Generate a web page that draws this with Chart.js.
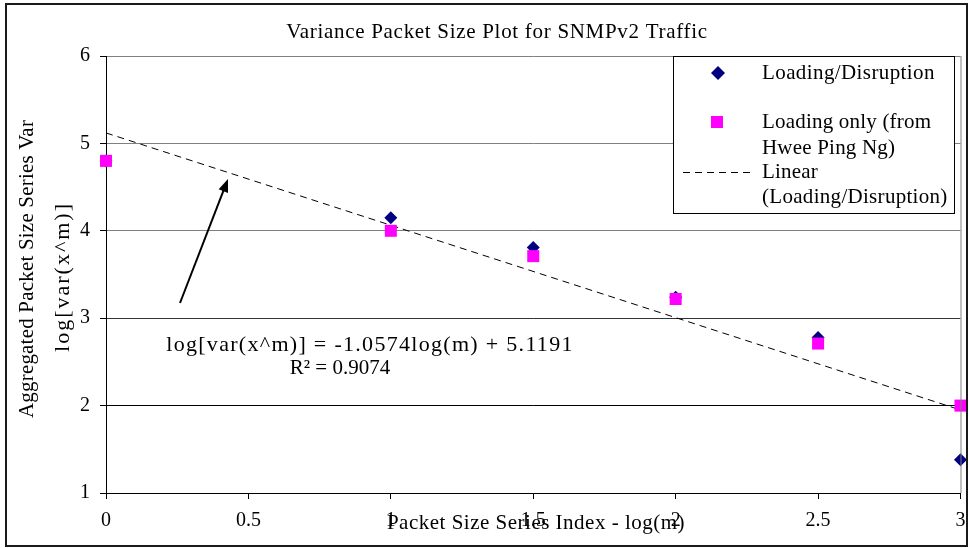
<!DOCTYPE html>
<html>
<head>
<meta charset="utf-8">
<script src="https://cdn.jsdelivr.net/npm/chart.js@4/dist/chart.umd.min.js"></script>
<style>
body{margin:0;background:#fff;}
#wrap{width:969px;height:548px;}
</style>
</head>
<body>
<div id="wrap"><canvas id="varChart" width="969" height="548"></canvas></div>
<script>
// values
let logM = [0, 1, 1.5, 2, 2.5, 3];
let loadingDisruption = [4.8, 4.15, 3.81, 3.24, 2.78, 1.38];
let loadingOnly = [4.8, 4.0, 3.71, 3.22, 2.71, 2.0];
let trendX = [0, 3];
let trendY = [5.12, 1.95];
let xTicks = [0, 0.5, 1, 1.5, 2, 2.5, 3];
let yTicks = [1, 2, 3, 4, 5, 6];

let titleText = "Variance Packet Size Plot for SNMPv2 Traffic";
let xTitle = "Packet Size Series Index - log(m)";
let yTitle = ["Aggregated Packet Size Series Var", "log[var(x^m)]"];
let eqText = "log[var(x^m)] = -1.0574log(m) + 5.1191";
let r2Text = "R² = 0.9074";

let serif = "'Liberation Serif', 'Times New Roman', serif";

function pts(xs, ys){
let out = [];
xs.forEach((x,i)=>out.push({x:x, y:ys[i]}));
return out;
}

function txt(ctx, s, x, y, size, spacing){
ctx.font = size + "px " + serif;
ctx.letterSpacing = (spacing || 0) + "px";
ctx.fillText(s, x, y);
ctx.letterSpacing = "0px";
}

function drawArrow(ctx, x1, y1, x2, y2){
let a = Math.atan2(y2-y1, x2-x1);
ctx.save();
ctx.strokeStyle = "#000";
ctx.fillStyle = "#000";
ctx.lineWidth = 2;
ctx.beginPath();
ctx.moveTo(x1,y1);
ctx.lineTo(x2 - 8*Math.cos(a), y2 - 8*Math.sin(a));
ctx.stroke();
ctx.beginPath();
ctx.moveTo(x2,y2);
ctx.lineTo(x2 - 13*Math.cos(a) + 5*Math.sin(a), y2 - 13*Math.sin(a) - 5*Math.cos(a));
ctx.lineTo(x2 - 13*Math.cos(a) - 5*Math.sin(a), y2 - 13*Math.sin(a) + 5*Math.cos(a));
ctx.closePath();
ctx.fill();
ctx.restore();
}

let extras = {
id: "extras",
beforeDraw(chart){
let ctx = chart.ctx;
ctx.save();
ctx.fillStyle = "#fff";
ctx.fillRect(0,0,chart.width,chart.height);
ctx.restore();
},
afterDraw(chart){
let ctx = chart.ctx;
let area = chart.chartArea;
ctx.save();
// right edge of the plot area
ctx.strokeStyle = "#808080";
ctx.lineWidth = 1;
ctx.beginPath();
ctx.moveTo(area.right+0.5, area.top);
ctx.lineTo(area.right+0.5, area.bottom);
ctx.stroke();

ctx.fillStyle = "#000";
ctx.textBaseline = "middle";
ctx.textAlign = "center";
txt(ctx, titleText, 497, 32, 21, 0.7);
txt(ctx, xTitle, 536, 523, 21, 0.5);

ctx.save();
ctx.translate(27, 269);
ctx.rotate(-Math.PI/2);
txt(ctx, yTitle[0], 0, 0, 21, 0.2);
ctx.restore();
ctx.save();
ctx.translate(63, 277);
ctx.rotate(-Math.PI/2);
txt(ctx, yTitle[1], 0, 0, 22, 2);
ctx.restore();

// trendline equation
txt(ctx, eqText, 370, 345, 22, 1.3);
txt(ctx, r2Text, 340, 368, 21, 0);
drawArrow(ctx, 180, 303, 228, 179);

// legend
let lx = 673, ly = 56, lw = 281, lh = 157;
ctx.fillStyle = "#fff";
ctx.fillRect(lx, ly, lw, lh);
ctx.strokeStyle = "#000";
ctx.lineWidth = 1;
ctx.strokeRect(lx+0.5, ly+0.5, lw, lh);
ctx.fillStyle = "#000080";
ctx.beginPath();
ctx.moveTo(718, 66); ctx.lineTo(725, 73); ctx.lineTo(718, 80); ctx.lineTo(711, 73);
ctx.closePath();
ctx.fill();
ctx.fillStyle = "#ff00ff";
ctx.fillRect(711, 116, 12, 12);
ctx.strokeStyle = "#000";
ctx.setLineDash([7,5]);
ctx.beginPath();
ctx.moveTo(683, 172.5);
ctx.lineTo(752, 172.5);
ctx.stroke();
ctx.setLineDash([]);
ctx.fillStyle = "#000";
ctx.textAlign = "left";
txt(ctx, "Loading/Disruption", 762, 73, 21, 0.4);
txt(ctx, "Loading only (from", 762, 122, 21, 0.2);
txt(ctx, "Hwee Ping Ng)", 762, 148, 21, 0.2);
txt(ctx, "Linear", 762, 172, 21, 0.2);
txt(ctx, "(Loading/Disruption)", 762, 197, 21, 0.3);

// outer frame
ctx.strokeStyle = "#1a1a1a";
ctx.lineWidth = 2;
ctx.strokeRect(6, 4, 961, 542);
ctx.restore();
}
};

let gridCols = {6:"#808080", 5:"#808080", 4:"#808080", 3:"#333", 2:"#000", 1:"#000"};

let chart = new Chart(document.getElementById("varChart"),{
type:"scatter",
data:{
datasets:[
{
label:"Loading only (from Hwee Ping Ng)",
data:pts(logM, loadingOnly),
pointStyle:"rect",
pointRadius:8.5,
backgroundColor:"#ff00ff",
borderColor:"#ff00ff",
borderWidth:0,
clip:false,
order:0
},
{
label:"Loading/Disruption",
data:pts(logM, loadingDisruption),
pointStyle:"rectRot",
pointRadius:6.5,
backgroundColor:"#000080",
borderColor:"#000080",
borderWidth:0,
clip:false,
order:1
},
{
label:"Linear (Loading/Disruption)",
data:pts(trendX, trendY),
showLine:true,
pointRadius:0,
borderColor:"#000",
borderWidth:1,
borderDash:[7,5],
order:2
}
]
},
options:{
responsive:false,
animation:false,
layout:{padding:{top:56, right:4, left:0, bottom:0}},
plugins:{
legend:{display:false},
title:{display:false},
tooltip:{enabled:false}
},
scales:{
x:{
type:"linear",
min:0, max:3,
afterBuildTicks(s){ s.ticks = xTicks.map(v=>({value:v})); },
afterFit(s){ s.height = 55; s.paddingLeft = 0; s.paddingRight = 0; },
grid:{drawOnChartArea:false, tickLength:6, color:"#000"},
border:{color:"#000", width:1},
ticks:{
color:"#000",
font:{family:serif, size:20},
padding:10,
maxRotation:0,
callback:v=>String(v)
}
},
y:{
type:"linear",
min:1, max:6,
afterBuildTicks(s){ s.ticks = yTicks.map(v=>({value:v})); },
afterFit(s){ s.width = 106; s.paddingTop = 0; s.paddingBottom = 0; },
grid:{
tickLength:6,
tickColor:"#000",
color:c=>gridCols[c.tick.value] || "#808080"
},
border:{color:"#000", width:1},
ticks:{
color:"#000",
font:{family:serif, size:20},
padding:10,
callback:v=>String(v)
}
}
}
},
plugins:[extras]
});
</script>
</body>
</html>
